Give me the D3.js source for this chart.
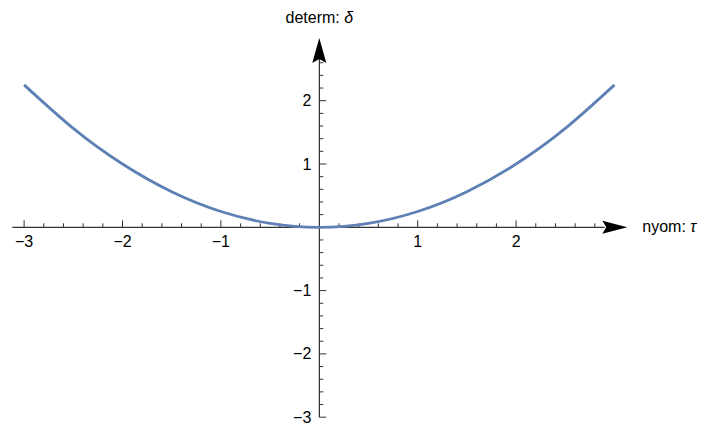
<!DOCTYPE html>
<html>
<head>
<meta charset="utf-8">
<script src="https://cdn.jsdelivr.net/npm/d3@7"></script>
<style>
  html, body { margin: 0; padding: 0; background: #fff; }
  svg { display: block; }
  text { font-family: "Liberation Sans", Arial, sans-serif; font-size: 16px; fill: #000; }
</style>
</head>
<body>
<svg id="chart" width="704" height="426"></svg>
<script>
// Curve samples: τ and δ
const tauValues   = [-3, -2.5, -2, -1.5, -1, -0.5, 0, 0.5, 1, 1.5, 2, 2.5, 3];
const deltaValues = [2.25, 1.5625, 1.0, 0.5625, 0.25, 0.0625, 0, 0.0625, 0.25, 0.5625, 1.0, 1.5625, 2.25];

// Tick labels
const xTickLabels = [-3, -2, -1, 1, 2];
const yTickLabels = [-3, -2, -1, 1, 2];
const xLabel = "nyom: ";
const xSymbol = "τ";
const yLabel = "determ: ";
const ySymbol = "δ";

const svg = d3.select("#chart");

const x = d3.scaleLinear().domain([-3, 3]).range([24.1, 614.5]);
const y = d3.scaleLinear().domain([-3, 3]).range([417.2, 37.4]);

const axisColor = "#000";
const tickColor = "#333";
const fmt = v => (v < 0 ? "\u2212" + Math.abs(v) : String(v));

// minor / major ticks every 0.2
const xMinor = d3.range(-15, 15).map(i => i / 5).filter(v => v >= -3 && v <= 2.8);
const yMinor = d3.range(-15, 14).map(i => i / 5).filter(v => v >= -3 && v <= 2.6);

const isMajor = v => Math.abs(v - Math.round(v)) < 1e-6;

// x-axis
const gx = svg.append("g");
gx.append("line")
  .attr("x1", x(-3.12)).attr("x2", x(2.9))
  .attr("y1", y(0)).attr("y2", y(0))
  .attr("stroke", axisColor).attr("stroke-width", 1);
gx.selectAll("line.tick").data(xMinor.filter(v => Math.abs(v) > 1e-6)).join("line")
  .attr("class", "tick")
  .attr("x1", d => x(d)).attr("x2", d => x(d))
  .attr("y1", y(0)).attr("y2", d => y(0) - (isMajor(d) ? 7 : 4))
  .attr("stroke", tickColor).attr("stroke-width", 1);
gx.selectAll("text").data(xTickLabels).join("text")
  .attr("x", d => x(d)).attr("y", y(0) + 20)
  .attr("text-anchor", "middle")
  .text(fmt);
// arrowhead
gx.append("path")
  .attr("d", () => {
    const tip = x(3.13), base = tip - 25, cy = y(0);
    return `M${tip},${cy} L${base},${cy - 6.5} L${base + 4},${cy} L${base},${cy + 6.5} Z`;
  })
  .attr("fill", axisColor);
const xl = svg.append("text").attr("x", x(3.13) + 15).attr("y", y(0) + 5);
xl.append("tspan").text(xLabel);
xl.append("tspan").attr("font-style", "italic").text(xSymbol);

// y-axis
const gy = svg.append("g");
gy.append("line")
  .attr("x1", x(0)).attr("x2", x(0))
  .attr("y1", y(-3)).attr("y2", y(2.8))
  .attr("stroke", axisColor).attr("stroke-width", 1);
gy.selectAll("line.tick").data(yMinor.filter(v => Math.abs(v) > 1e-6)).join("line")
  .attr("class", "tick")
  .attr("x1", x(0)).attr("x2", d => x(0) + (isMajor(d) ? 7 : 4))
  .attr("y1", d => y(d)).attr("y2", d => y(d))
  .attr("stroke", tickColor).attr("stroke-width", 1);
gy.selectAll("text").data(yTickLabels).join("text")
  .attr("x", x(0) - 8).attr("y", d => y(d) + 5.5)
  .attr("text-anchor", "end")
  .text(fmt);
gy.append("path")
  .attr("d", () => {
    const tip = y(2.99), base = tip + 25, cx = x(0);
    return `M${cx},${tip} L${cx - 7},${base} L${cx},${base - 4} L${cx + 7},${base} Z`;
  })
  .attr("fill", axisColor);
const yl = svg.append("text").attr("x", x(0)).attr("y", 23).attr("text-anchor", "middle");
yl.append("tspan").text(yLabel);
yl.append("tspan").attr("font-style", "italic").text(ySymbol);

// curve
const pts = tauValues.map((t, i) => [t, deltaValues[i]]);
svg.append("path")
  .datum(pts)
  .attr("d", d3.line().x(d => x(d[0])).y(d => y(d[1])).curve(d3.curveNatural))
  .attr("fill", "none")
  .attr("stroke", "#5E81B5")
  .attr("stroke-width", 2.8);
</script>
</body>
</html>
